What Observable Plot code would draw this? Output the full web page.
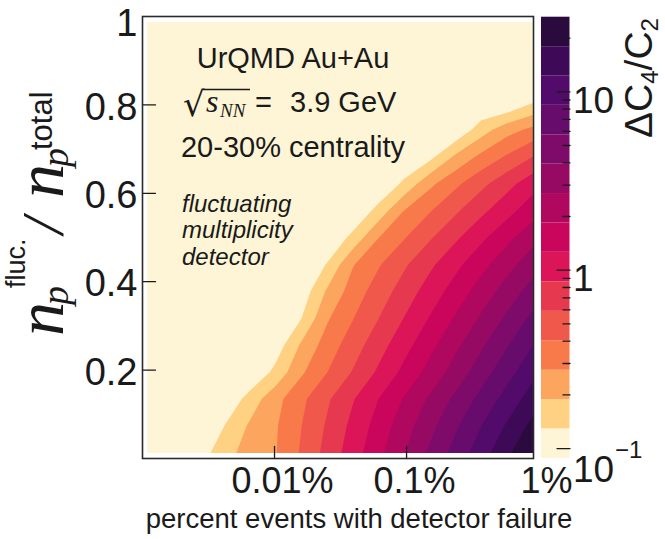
<!DOCTYPE html>
<html>
<head>
<meta charset="utf-8">
<script src="https://cdn.jsdelivr.net/npm/d3@7"></script>
<script src="https://cdn.jsdelivr.net/npm/@observablehq/plot@0.6"></script>
<style>
  html, body { margin: 0; padding: 0; background: #fff; }
  #fig { position: relative; width: 665px; height: 539px; overflow: hidden; font-family: "Liberation Sans", Arial, sans-serif; }
  #fig > svg { position: absolute; top: 0; }
</style>
</head>
<body>
<div id="fig"></div>
<script>
// Grid nodes: fraction of failing events (percent, log-spaced) and fluctuating-proton fraction
const failurePct = [0.001084, 0.001698, 0.002655, 0.004159, 0.006516, 0.01019, 0.01596, 0.02500,
                    0.03908, 0.06124, 0.09594, 0.1500, 0.2350, 0.3681, 0.5754, 0.9016];
const fluctFrac = [0.0125, 0.0734, 0.1344, 0.1953, 0.2563, 0.3172, 0.3781, 0.4391, 0.5000,
                   0.5609, 0.6219, 0.6828, 0.7438, 0.8047, 0.8656, 0.9266, 0.9875];

// ΔC4/C2 on the grid, one row per fluctFrac value (bottom row first), one column per failurePct value
const deltaC4C2 = [
  [0.09, 0.09, 0.104, 0.165, 0.218, 0.270, 0.421, 0.668, 1.05, 1.66, 2.63, 4.19, 6.61, 10.4, 16.5, 26.2],
  [0.09, 0.09, 0.09, 0.129, 0.199, 0.265, 0.400, 0.617, 0.952, 1.47, 2.28, 3.52, 5.42, 8.39, 12.9, 20.0],
  [0.09, 0.09, 0.09, 0.091, 0.152, 0.243, 0.368, 0.555, 0.834, 1.26, 1.89, 2.84, 4.29, 6.46, 9.73, 14.7],
  [0.09, 0.09, 0.09, 0.09, 0.09, 0.144, 0.259, 0.399, 0.604, 0.913, 1.39, 2.10, 3.17, 4.82, 7.29, 11.0],
  [0.09, 0.09, 0.09, 0.09, 0.09, 0.104, 0.199, 0.327, 0.491, 0.735, 1.10, 1.65, 2.48, 3.72, 5.57, 8.36],
  [0.09, 0.09, 0.09, 0.09, 0.09, 0.09, 0.128, 0.262, 0.395, 0.585, 0.869, 1.29, 1.91, 2.84, 4.21, 6.24],
  [0.09, 0.09, 0.09, 0.09, 0.09, 0.09, 0.102, 0.197, 0.327, 0.479, 0.697, 1.02, 1.48, 2.17, 3.16, 4.62],
  [0.09, 0.09, 0.09, 0.09, 0.09, 0.09, 0.09, 0.132, 0.267, 0.387, 0.555, 0.796, 1.14, 1.63, 2.34, 3.36],
  [0.09, 0.09, 0.09, 0.09, 0.09, 0.09, 0.09, 0.09, 0.144, 0.272, 0.391, 0.561, 0.805, 1.16, 1.65, 2.37],
  [0.09, 0.09, 0.09, 0.09, 0.09, 0.09, 0.09, 0.09, 0.09, 0.147, 0.276, 0.390, 0.553, 0.782, 1.10, 1.57],
  [0.09, 0.09, 0.09, 0.09, 0.09, 0.09, 0.09, 0.09, 0.09, 0.09, 0.140, 0.251, 0.370, 0.530, 0.755, 1.08],
  [0.09, 0.09, 0.09, 0.09, 0.09, 0.09, 0.09, 0.09, 0.09, 0.09, 0.09, 0.115, 0.202, 0.303, 0.421, 0.588],
  [0.09, 0.09, 0.09, 0.09, 0.09, 0.09, 0.09, 0.09, 0.09, 0.09, 0.09, 0.09, 0.093, 0.157, 0.237, 0.302],
  [0.09, 0.09, 0.09, 0.09, 0.09, 0.09, 0.09, 0.09, 0.09, 0.09, 0.09, 0.09, 0.09, 0.09, 0.09, 0.128],
  [0.09, 0.09, 0.09, 0.09, 0.09, 0.09, 0.09, 0.09, 0.09, 0.09, 0.09, 0.09, 0.09, 0.09, 0.09, 0.09],
  [0.09, 0.09, 0.09, 0.09, 0.09, 0.09, 0.09, 0.09, 0.09, 0.09, 0.09, 0.09, 0.09, 0.09, 0.09, 0.09],
  [0.09, 0.09, 0.09, 0.09, 0.09, 0.09, 0.09, 0.09, 0.09, 0.09, 0.09, 0.09, 0.09, 0.09, 0.09, 0.09]
];

// Contour levels (15 bands, log-spaced) and their colours, lowest first
const levels = [0.088, 0.129, 0.188, 0.275, 0.402, 0.588, 0.86, 1.26, 1.84, 2.69, 3.93, 5.74, 8.4, 12.3, 17.9, 26.2];
const bandColors = ["#fdf5d6", "#fed282", "#fca55f", "#f8794a", "#ef584b", "#e6384f", "#dc1458", "#c9055c",
                    "#b0075f", "#970a64", "#7e0b69", "#670b6d", "#520b6b", "#3e0a57", "#2b0a3e"];

// Axis ticks
const xTickLabels = [0.01, 0.1, 1];
const xTickMarks = [0.01, 0.1];
const yTickLabels = [0.2, 0.4, 0.6, 0.8];
const yTopLabel = [1];
const yTickMarks = [0.2, 0.4, 0.6, 0.8];
const cbMajor = [0.1, 1, 10];
const cbMinor = [0.2, 0.3, 0.4, 0.5, 0.6, 0.7, 0.8, 0.9, 2, 3, 4, 5, 6, 7, 8, 9, 20];
const cbLabels = [{v: 0.1, base: "10", exp: "\u22121"}, {v: 1, base: "1", exp: ""}, {v: 10, base: "10", exp: ""}];

// The horizontal position scale works in decades: log10 of the percentage
const pctRange = [0.001, 0.915];
const xDomain = pctRange.map(Math.log10);
const ink = "#1a1a1a";
const tickShape = {draw(context, l) { context.moveTo(0, 0); context.lineTo(0, -l); }};
const svgStyle = {background: "transparent", overflow: "visible", fontFamily: "'Liberation Sans', Arial, sans-serif", color: ink};
const pctFormat = d => `${+Math.pow(10, d).toPrecision(6)}%`;

// Grid extents: nodes are cell centres, so pad by half a step on each side
const lx0 = Math.log10(failurePct[0]), lx1 = Math.log10(failurePct[failurePct.length - 1]);
const sxStep = (lx1 - lx0) / (failurePct.length - 1);
const y0 = fluctFrac[0], yN = fluctFrac[fluctFrac.length - 1];
const syStep = (yN - y0) / (fluctFrac.length - 1);

const logGrid = deltaC4C2.flat().map(Math.log10);
const logLevels = levels.map(Math.log10);

const main = Plot.plot({
  width: 665, height: 539,
  marginLeft: 142, marginRight: 132, marginTop: 16, marginBottom: 81,
  style: svgStyle,
  x: {domain: xDomain, label: null},
  y: {domain: [0, 1], label: null},
  color: {type: "threshold", domain: logLevels.slice(1, 15), range: bandColors},
  marks: [
    Plot.contour(logGrid, {
      width: failurePct.length, height: fluctFrac.length,
      x1: lx0 - sxStep / 2, x2: lx1 + sxStep / 2,
      y1: y0 - syStep / 2, y2: yN + syStep / 2,
      fill: Plot.identity,
      thresholds: logLevels.slice(0, 15)
    }),
    Plot.vector(xTickMarks, {x: d => Math.log10(d), y: 0, length: 12, rotate: 0, anchor: "start", shape: tickShape, stroke: ink, strokeWidth: 1.3}),
    Plot.vector(yTickMarks, {x: xDomain[0], y: d => d, length: 13, rotate: 90, anchor: "start", shape: tickShape, stroke: ink, strokeWidth: 1.3}),
    Plot.frame({stroke: "#2a2a2a", strokeWidth: 1.6}),
    Plot.axisX({ticks: xTickLabels.map(Math.log10), tickFormat: pctFormat, tickSize: 0, tickPadding: 9, fontSize: 36, dx: 8, label: null, fill: ink}),
    Plot.axisY({ticks: yTickLabels, tickFormat: d => String(d), tickSize: 0, tickPadding: 5, fontSize: 38, dy: 2.5, label: null, fill: ink}),
    Plot.axisY({ticks: yTopLabel, tickFormat: d => String(d), tickSize: 0, tickPadding: 5, fontSize: 38, dy: 7, label: null, fill: ink})
  ]
});
main.style.left = "0px";

// Clip the filled contours to the sampled region (nodes at the edges)
{
  const sx = main.scale("x"), sy = main.scale("y");
  const X0 = sx.apply(lx0), X1 = sx.apply(lx1);
  const Y0 = sy.apply(yN), Y1 = sy.apply(y0);
  const ns = "http://www.w3.org/2000/svg";
  const defs = document.createElementNS(ns, "defs");
  const cp = document.createElementNS(ns, "clipPath");
  cp.setAttribute("id", "field-clip");
  const r = document.createElementNS(ns, "rect");
  r.setAttribute("x", X0); r.setAttribute("y", Y0);
  r.setAttribute("width", X1 - X0); r.setAttribute("height", Y1 - Y0);
  cp.appendChild(r); defs.appendChild(cp);
  main.insertBefore(defs, main.firstChild);
  const g = main.querySelector('g[aria-label="contour"]');
  if (g) g.setAttribute("clip-path", "url(#field-clip)");
}

// Colour bar
const bands = bandColors.map((c, i) => ({lo: levels[i], hi: levels[i + 1], color: c}));
const colorbar = Plot.plot({
  width: 135, height: 539,
  marginLeft: 11, marginRight: 95.5, marginTop: 16.7, marginBottom: 81,
  style: svgStyle,
  x: {domain: [0, 1], axis: null},
  y: {type: "log", domain: [levels[0], levels[levels.length - 1]], axis: null},
  marks: [
    Plot.rect(bands, {x1: 0, x2: 1, y1: "lo", y2: "hi", fill: "color"}),
    Plot.vector(cbMajor, {x: 1, y: d => d, length: 13, rotate: -90, anchor: "start", shape: tickShape, stroke: ink, strokeWidth: 1.3}),
    Plot.vector(cbMinor, {x: 1, y: d => d, length: 7, rotate: -90, anchor: "start", shape: tickShape, stroke: ink, strokeWidth: 1.3}),
    Plot.text(cbLabels.filter(d => !d.exp), {x: 1, y: "v", text: "base", dx: 3, dy: 9, textAnchor: "start", fontSize: 37, fill: ink}),
    Plot.text(cbLabels.filter(d => d.exp), {x: 1, y: "v", text: "base", dx: 3, dy: 22, textAnchor: "start", fontSize: 37, fill: ink}),
    Plot.text(cbLabels.filter(d => d.exp), {x: 1, y: "v", text: "exp", dx: 45, dy: 2, textAnchor: "start", fontSize: 24, fill: ink})
  ]
});
colorbar.style.left = "530px";

// Titles and annotations
const overlay = `
<svg width="665" height="539" style="position:absolute;left:0;top:0;pointer-events:none" xmlns="http://www.w3.org/2000/svg" fill="${ink}">
  <g font-family="'Liberation Sans', Arial, sans-serif" font-size="29">
    <text x="293" y="68" text-anchor="middle">UrQMD Au+Au</text>
    <text x="183" y="116" font-family="'DejaVu Sans', sans-serif" font-size="34">\u221A</text>
    <line x1="203" x2="250" y1="89.5" y2="89.5" stroke="${ink}" stroke-width="1.5"/>
    <text x="206" y="112" font-family="'Liberation Serif', serif" font-style="italic" font-size="32">s</text>
    <text x="220" y="117" font-family="'Liberation Serif', serif" font-style="italic" font-size="19">NN</text>
    <text x="255" y="112">=</text>
    <text x="290" y="112">3.9 GeV</text>
    <text x="293" y="157" text-anchor="middle">20-30% centrality</text>
  </g>
  <g font-family="'Liberation Sans', Arial, sans-serif" font-style="italic" font-size="24">
    <text x="182" y="212">fluctuating</text>
    <text x="182" y="238">multiplicity</text>
    <text x="182" y="265">detector</text>
  </g>
  <text x="359" y="528" text-anchor="middle" font-family="'Liberation Sans', Arial, sans-serif" font-size="27.5">percent events with detector failure</text>
  <g transform="translate(63,336) rotate(-90)">
    <text x="0" y="0" font-family="'Liberation Serif', serif" font-style="italic" font-size="68">n</text>
    <text x="31" y="5" font-family="'Liberation Serif', serif" font-style="italic" font-size="38">p</text>
    <text x="48" y="-38" font-family="'Liberation Sans', Arial, sans-serif" font-size="27">fluc.</text>
    <text x="102" y="0" font-family="'Liberation Serif', serif" font-style="italic" font-size="60">/</text>
    <text x="138" y="0" font-family="'Liberation Serif', serif" font-style="italic" font-size="68">n</text>
    <text x="169" y="5" font-family="'Liberation Serif', serif" font-style="italic" font-size="38">p</text>
    <text x="186" y="-11" font-family="'Liberation Sans', Arial, sans-serif" font-size="31">total</text>
  </g>
  <g transform="translate(652,138) rotate(-90)" font-family="'Liberation Sans', Arial, sans-serif" font-size="39">
    <text x="0" y="0">\u0394C<tspan font-size="24" dy="6">4</tspan><tspan dy="-6">/C</tspan><tspan font-size="24" dy="6">2</tspan></text>
  </g>
</svg>`;

const fig = document.getElementById("fig");
fig.appendChild(main);
fig.appendChild(colorbar);
fig.insertAdjacentHTML("beforeend", overlay);
</script>
</body>
</html>
